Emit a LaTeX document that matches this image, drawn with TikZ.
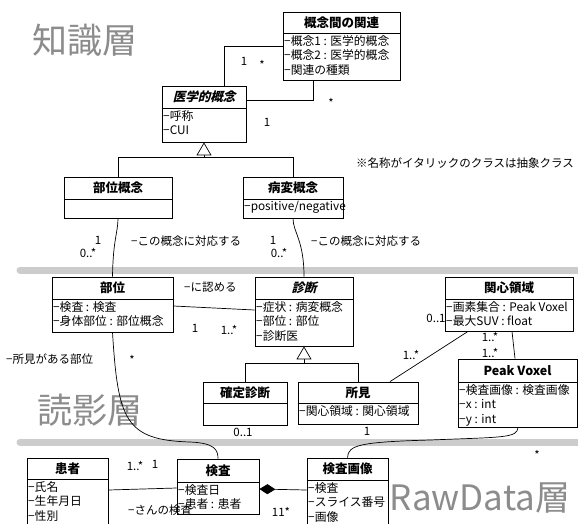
\documentclass[tikz,border=0pt]{standalone}
\usepackage{fontspec}
\setmainfont{Noto Sans CJK JP}
\newfontfamily\slantfont{Noto Sans CJK JP}[FakeSlant=0.25]
\usetikzlibrary{fit,calc,arrows.meta}
\tikzset{
  box/.style={draw, inner sep=0pt, line width=0.8pt},
  hdr/.style={font=\bfseries\fontsize{12.5}{14}\selectfont, inner sep=0pt},
  att/.style={font=\fontsize{11.8}{14.8}\selectfont, align=left, anchor=north west, inner sep=0pt},
  lbl/.style={font=\fontsize{11.5}{13}\selectfont, inner sep=0pt},
  band/.style={line width=7pt, draw=black!20, line cap=round},
  layer/.style={font=\fontsize{35}{35}\selectfont, text=black!45, inner sep=0pt},
  assoc/.style={draw, line width=0.7pt},
  gen/.style={assoc, -{Triangle[open, length=13pt, width=15pt, fill=white]}},
  comp/.style={assoc, {Diamond[fill=black, length=16pt, width=10pt]}-},
}
\newcommand\umlclass[8]{%
  \node[box, fit={(#2,#3) (#4,#6)}] (#1) {};
  \draw[line width=0.8pt] (#2,#5) -- (#4,#5);
  \node[hdr] (#1-h) at ({(#2+#4)/2},{(#3+#5)/2}) {#7};
  \node[att] (#1-a) at (#2+1,#5+2) {#8};
}
\begin{document}
\begin{tikzpicture}[x=1pt, y=-1pt]
\clip (0,0) rectangle (578,523);
\fill[white] (0,0) rectangle (578,523);
% layer bands
\draw[band] (20,270) -- (590,270);
\draw[band] (20,442) -- (590,442);
% layer names
\node[layer] (k1) at (85,40) {知識層};
\node[layer] (k2) at (90,410) {読影層};
\node[layer] (k3) at (480,498) {RawData層};
% classes
\umlclass{rel}{283}{12}{400}{33}{80}{概念間の関連}{−概念1 : 医学的概念\\−概念2 : 医学的概念\\−関連の種類}
\umlclass{med}{162}{86}{246}{108}{142}{\slantfont\bfseries 医学的概念}{−呼称\\−CUI}
\umlclass{site}{64}{177}{172}{199}{218}{部位概念}{}
\umlclass{lesion}{243}{177}{343}{199}{218}{病変概念}{−positive/negative}
\umlclass{part}{52}{277}{173}{299}{332}{部位}{−検査 : 検査\\−身体部位 : 部位概念}
\umlclass{diag}{255}{277}{353}{299}{346}{\slantfont\bfseries 診断}{−症状 : 病変概念\\−部位 : 部位\\−診断医}
\umlclass{conf}{203}{382}{287}{403}{425}{確定診断}{}
\umlclass{find}{298}{382}{418}{403}{424}{所見}{−関心領域 : 関心領域}
\umlclass{roi}{445}{277}{573}{299}{331}{関心領域}{−画素集合 : Peak Voxel\\−最大SUV : float}
\umlclass{pv}{458}{359}{577}{382}{427}{Peak Voxel}{−検査画像 : 検査画像\\−x : int\\−y : int}
\umlclass{pat}{27}{458}{108}{479}{535}{患者}{−氏名\\−生年月日\\−性別}
\umlclass{exam}{177}{459}{259}{482}{514}{検査}{−検査日\\−患者 : 患者}
\umlclass{img}{307}{458}{388}{480}{535}{検査画像}{−検査\\−スライス番号\\−画像}
% connectors
\draw[assoc] (med.north -| 224,0) |- (rel.west |- 0,46);
\draw[assoc] (med.east |- 0,100) -| (rel.south -| 313,0);
\draw[assoc] (site.north) |- (lesion.north |- 0,157) -- (lesion.north);
\draw[gen] (med.south |- 0,157) -- (med.south);
\draw[assoc] (site.south) .. controls (118,232) and (113,240) .. (part.north);
\draw[assoc] (lesion.south) .. controls (293,232) and (304,240) .. (diag.north);
\draw[assoc] (part.east |- 0,306) -- (diag.west |- 0,310);
\draw[assoc] (conf.north) |- (find.north |- 0,363) -- (find.north);
\draw[gen] (diag.south |- 0,363) -- (diag.south);
\draw[assoc] (find.north -| 390,0) -- (roi.south -| 468,0);
\draw[assoc] (roi.south -| 512,0) -- (pv.north -| 515,0);
\draw[assoc] (part.south) .. controls (118,420) and (125,440) .. (190,442) .. controls (215,443) and (218,450) .. (exam.north);
\draw[assoc] (pv.south -| 518,0) .. controls (517,438) and (505,437) .. (430,440) .. controls (360,442) and (348,445) .. (img.north);
\draw[assoc] (pat.east |- 0,490) -- (exam.west |- 0,488);
\draw[comp] (exam.east |- 0,489) -- (img.west |- 0,490);
% labels
\node[lbl] (l1) at (244,61) {1};
\node[lbl] (l2) at (262,65) {*};
\node[lbl] (l3) at (267,122) {1};
\node[lbl] (l4) at (331,103) {*};
\node[lbl] (note) at (465,163) {※名称がイタリックのクラスは抽象クラス};
\node[lbl] (l5) at (98,240) {1};
\node[lbl] (l6) at (88,253) {0..*};
\node[lbl, anchor=west] (l7) at (131,241) {−この概念に対応する};
\node[lbl] (l8) at (273,240) {1};
\node[lbl] (l9) at (279,253) {0..*};
\node[lbl, anchor=west] (l10) at (311,241) {−この概念に対応する};
\node[lbl, anchor=west] (l11) at (184,287) {−に認める};
\node[lbl] (l12) at (195,328) {1};
\node[lbl] (l13) at (229,330) {1..*};
\node[lbl, anchor=west] (l14) at (6,359) {−所見がある部位};
\node[lbl] (l15) at (132,360) {*};
\node[lbl] (l16) at (436,318) {0..1};
\node[lbl] (l17) at (411,355) {1..*};
\node[lbl] (l18) at (490,337) {1..*};
\node[lbl] (l19) at (490,353) {1..*};
\node[lbl] (l20) at (243,432) {0..1};
\node[lbl] (l21) at (367,431) {1};
\node[lbl] (l22) at (537,455) {*};
\node[lbl] (l23) at (135,466) {1..*};
\node[lbl] (l24) at (155,464) {1};
\node[lbl, anchor=west] (l25) at (128,510) {−さんの検査};
\node[lbl] (l26) at (281,512) {11*};
\end{tikzpicture}
\end{document}
